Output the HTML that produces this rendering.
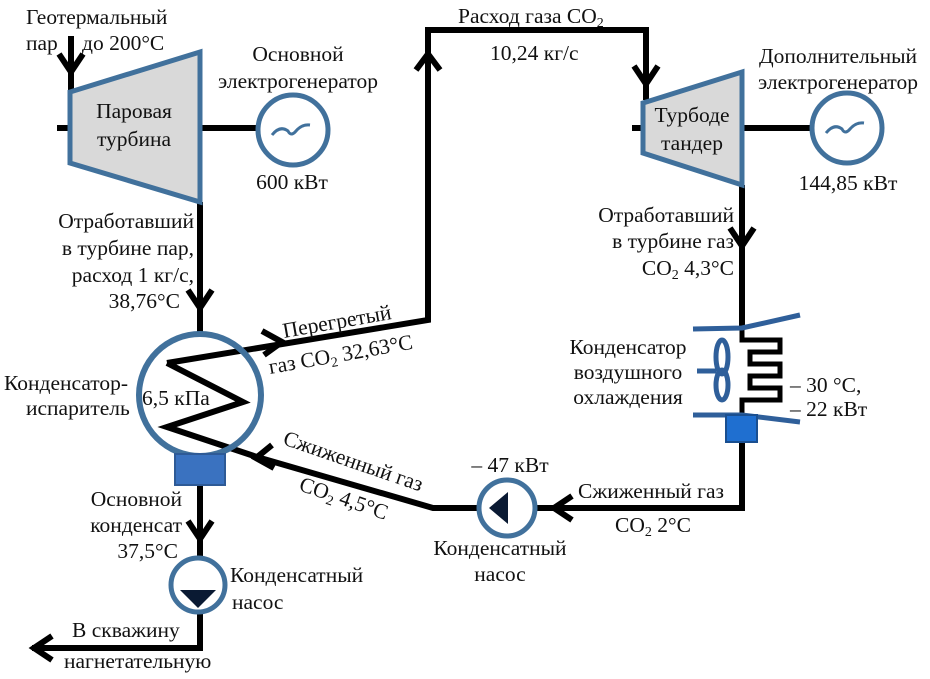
<!DOCTYPE html>
<html><head><meta charset="utf-8"><style>
html,body{margin:0;padding:0;background:#fff;}
svg{display:block;}
text{font-family:"Liberation Serif",serif;font-size:21.5px;fill:#111;}
</style></head><body>
<svg width="930" height="679" viewBox="0 0 930 679" xmlns="http://www.w3.org/2000/svg">
<g fill="none" stroke="#000" stroke-width="6" stroke-linejoin="miter">
<line x1="71" y1="36" x2="71" y2="90"/>
<polyline points="59,54 71,72 83,54" stroke-width="6"/>
<line x1="57" y1="128" x2="70" y2="128"/>
<line x1="200" y1="128" x2="257" y2="128"/>
<line x1="632" y1="128" x2="643" y2="128"/>
<line x1="742" y1="128" x2="810" y2="128"/>
<line x1="200" y1="202" x2="200" y2="334"/>
<polyline points="188,290 200,308 212,290" stroke-width="6"/>
<polyline points="167,363 243,402 167,427 257,457"/>
<polyline points="167,363 428,320 428,30 646,30 646,100"/>
<polyline points="416,70 428,54 440,70" stroke-width="6"/>
<polyline points="634,66 646,84 658,66" stroke-width="6"/>
<polyline points="262,331 282,342 264,355" stroke-width="6"/>
<polyline points="257,457 433,508 480,508"/>
<polyline points="272,445 256,458 274,468" stroke-width="6"/>
<line x1="742" y1="185" x2="742" y2="330"/>
<polyline points="730,228 742,246 754,228" stroke-width="6"/>
<polyline points="742,440 742,508 536,508"/>
<polyline points="572,496 554,508 572,520" stroke-width="6"/>
<polyline points="742,330 742,340 780,340 780,352 750,352 750,364 780,364 780,376 750,376 750,388 780,388 780,400 742,400 742,416" stroke-width="5"/>
<line x1="200" y1="485" x2="200" y2="556"/>
<polyline points="188,521 200,539 212,521" stroke-width="6"/>
<polyline points="200,614 200,648 32,648"/>
<polyline points="52,636 34,648 52,660" stroke-width="6"/>
</g>
<polygon points="70,92 200,52 200,202 70,163" fill="#d9d9d9" stroke="#41719c" stroke-width="5"/>
<polygon points="643,103 742,72 742,185 643,153" fill="#d9d9d9" stroke="#41719c" stroke-width="5"/>
<g fill="none" stroke="#41719c" stroke-width="5">
<circle cx="293" cy="130" r="35"/>
<circle cx="847" cy="128" r="35"/>
<circle cx="200" cy="395" r="61" stroke-width="6"/>
<circle cx="198" cy="585" r="27"/>
<circle cx="507" cy="508" r="28"/>
<path d="M272,135 q8,-10 16,-4 q3,6 8,0 q6,-7 14,-6" stroke-width="3"/>
<path d="M826,133 q8,-10 16,-4 q3,6 8,0 q6,-7 14,-6" stroke-width="3"/>
</g>
<g fill="none" stroke="#2f5f9a" stroke-width="5">
<polyline points="693,329 742,328 800,315"/>
<polyline points="693,415 742,415 800,422"/>
<line x1="697" y1="371" x2="716" y2="371"/>
<ellipse cx="722" cy="357" rx="6" ry="17"/>
<ellipse cx="722" cy="385" rx="6" ry="15"/>
</g>
<rect x="175" y="454" width="50" height="31" fill="#3a72c0" stroke="#2e5a96" stroke-width="2"/>
<rect x="726" y="415" width="31" height="27" fill="#1f6fd0" stroke="#1a4f90" stroke-width="2"/>
<polygon points="180,590 216,590 198,608" fill="#0a1a33"/>
<polygon points="489,508 508,492 508,524" fill="#0a1a33"/>
<text x="26" y="24">Геотермальный</text>
<text x="26" y="50">пар</text>
<text x="82" y="50">до 200°C</text>
<text x="134" y="118" text-anchor="middle">Паровая</text>
<text x="134" y="146" text-anchor="middle">турбина</text>
<text x="298" y="61" text-anchor="middle">Основной</text>
<text x="298" y="88" text-anchor="middle">электрогенератор</text>
<text x="292" y="189" text-anchor="middle">600 кВт</text>
<text x="194" y="228" text-anchor="end">Отработавший</text>
<text x="194" y="255" text-anchor="end">в турбине пар,</text>
<text x="194" y="282" text-anchor="end">расход 1 кг/с,</text>
<text x="180" y="308" text-anchor="end">38,76°C</text>
<text x="458" y="23">Расход газа CO<tspan font-size="14" dy="4">2</tspan></text>
<text x="490" y="60">10,24 кг/с</text>
<text x="692" y="122" text-anchor="middle">Турбоде</text>
<text x="692" y="150" text-anchor="middle">тандер</text>
<text x="838" y="63" text-anchor="middle">Дополнительный</text>
<text x="838" y="89" text-anchor="middle">электрогенератор</text>
<text x="848" y="190" text-anchor="middle">144,85 кВт</text>
<text x="734" y="222" text-anchor="end">Отработавший</text>
<text x="734" y="248" text-anchor="end">в турбине газ</text>
<text x="734" y="275" text-anchor="end">CO<tspan font-size="14" dy="4">2</tspan><tspan dy="-4"> 4,3°C</tspan></text>
<text x="628" y="354" text-anchor="middle">Конденсатор</text>
<text x="628" y="379" text-anchor="middle">воздушного</text>
<text x="628" y="404" text-anchor="middle">охлаждения</text>
<text x="790" y="392">– 30 °C,</text>
<text x="790" y="416">– 22 кВт</text>
<text transform="translate(284,338) rotate(-10)">Перегретый</text>
<text transform="translate(270,374) rotate(-10)">газ CO<tspan font-size="14" dy="4">2</tspan><tspan dy="-4"> 32,63°C</tspan></text>
<text x="4" y="390">Конденсатор-</text>
<text x="26" y="415">испаритель</text>
<text x="142" y="405">6,5 кПа</text>
<text transform="translate(282,444) rotate(19)">Сжиженный газ</text>
<text transform="translate(298,490) rotate(19)">CO<tspan font-size="14" dy="4">2</tspan><tspan dy="-4"> 4,5°C</tspan></text>
<text x="510" y="472" text-anchor="middle">– 47 кВт</text>
<text x="578" y="498">Сжиженный газ</text>
<text x="615" y="532">CO<tspan font-size="14" dy="4">2</tspan><tspan dy="-4"> 2°C</tspan></text>
<text x="500" y="555" text-anchor="middle">Конденсатный</text>
<text x="500" y="581" text-anchor="middle">насос</text>
<text x="182" y="506" text-anchor="end">Основной</text>
<text x="182" y="532" text-anchor="end">конденсат</text>
<text x="178" y="558" text-anchor="end">37,5°C</text>
<text x="230" y="582">Конденсатный</text>
<text x="232" y="609">насос</text>
<text x="72" y="637">В скважину</text>
<text x="64" y="668">нагнетательную</text>
</svg>
</body></html>
